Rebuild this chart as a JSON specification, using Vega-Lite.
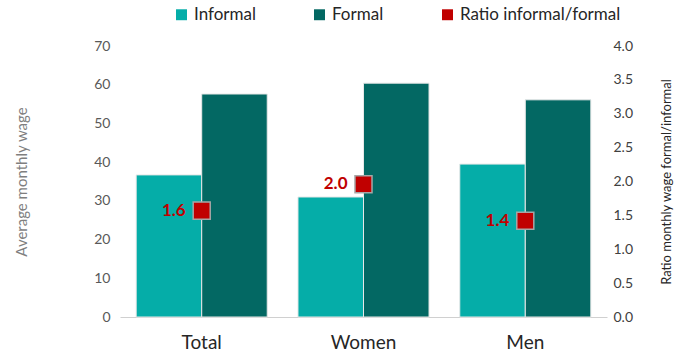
{
  "$schema": "https://vega.github.io/schema/vega-lite/v6.json",
  "width": 487,
  "height": 271,
  "autosize": "none",
  "padding": {"left": 120, "top": 46, "right": 84, "bottom": 39},
  "config": {
    "font": "Lato",
    "view": {"stroke": null},
    "legend": {
      "orient": "none",
      "legendX": 53,
      "legendY": -40,
      "direction": "horizontal",
      "symbolType": "square",
      "symbolSize": 120,
      "labelFontSize": 17,
      "labelLimit": 300,
      "labelColor": "#262626",
      "columnPadding": 55,
      "symbolOpacity": 1,
      "symbolStrokeWidth": 0,
      "title": null
    }
  },
  "datasets": {
    "bars": [
      {"group": "Total", "series": "Informal", "wage": 36.7},
      {"group": "Total", "series": "Formal", "wage": 57.6},
      {"group": "Women", "series": "Informal", "wage": 31.0},
      {"group": "Women", "series": "Formal", "wage": 60.4},
      {"group": "Men", "series": "Informal", "wage": 39.5},
      {"group": "Men", "series": "Formal", "wage": 56.1}
    ],
    "ratios": [
      {"group": "Total", "ratio": 1.57, "label": "1.6"},
      {"group": "Women", "ratio": 1.96, "label": "2.0"},
      {"group": "Men", "ratio": 1.42, "label": "1.4"}
    ]
  },
  "encoding": {
    "x": {
      "field": "group",
      "type": "nominal",
      "sort": ["Total", "Women", "Men"],
      "scale": {"paddingInner": 0.19, "paddingOuter": 0.1},
      "axis": {
        "title": null,
        "labelAngle": 0,
        "labelFontSize": 19,
        "labelColor": "#262626",
        "labelPadding": 16,
        "ticks": false,
        "domainColor": "#d0d0d0",
        "domainWidth": 1
      }
    }
  },
  "layer": [
    {
      "data": {"name": "bars"},
      "mark": {"type": "bar", "stroke": "#e8e8e8", "strokeWidth": 1},
      "encoding": {
        "xOffset": {"field": "series", "type": "nominal", "sort": ["Informal", "Formal"]},
        "y": {
          "field": "wage",
          "type": "quantitative",
          "scale": {"domain": [0, 70]},
          "axis": {
            "orient": "left",
            "title": "Average monthly wage",
            "titleFontSize": 15,
            "titleFontWeight": "normal",
            "titleColor": "#7f7f7f",
            "titlePadding": 64,
            "labelFontSize": 14,
            "labelColor": "#595959",
            "labelPadding": 10,
            "values": [0, 10, 20, 30, 40, 50, 60, 70],
            "grid": false,
            "ticks": false,
            "domain": false
          }
        },
        "color": {
          "field": "series",
          "type": "nominal",
          "scale": {
            "domain": ["Informal", "Formal", "Ratio informal/formal"],
            "range": ["#05ADA8", "#036863", "#C00000"]
          },
          "legend": {}
        }
      }
    },
    {
      "data": {"name": "ratios"},
      "mark": {"type": "point", "shape": "square", "filled": true, "size": 290, "stroke": "#a6a6a6", "strokeWidth": 1.5, "opacity": 1},
      "encoding": {
        "y": {
          "field": "ratio",
          "type": "quantitative",
          "scale": {"domain": [0, 4]},
          "axis": {
            "orient": "right",
            "title": "Ratio monthly wage formal/informal",
            "titleAngle": 270,
            "titleBaseline": "bottom",
            "titleFontSize": 13,
            "titleFontWeight": "normal",
            "titleColor": "#262626",
            "titlePadding": 41,
            "labelFontSize": 14,
            "labelColor": "#404040",
            "labelPadding": 6,
            "format": ".1f",
            "values": [0, 0.5, 1, 1.5, 2, 2.5, 3, 3.5, 4],
            "grid": false,
            "ticks": false,
            "domain": false
          }
        },
        "color": {"datum": "Ratio informal/formal"}
      }
    },
    {
      "data": {"name": "ratios"},
      "mark": {"type": "text", "align": "right", "baseline": "middle", "dx": -16, "fontSize": 17, "fontWeight": "bold", "color": "#C00000"},
      "encoding": {
        "y": {"field": "ratio", "type": "quantitative", "scale": {"domain": [0, 4]}, "axis": null},
        "text": {"field": "label"}
      }
    }
  ],
  "resolve": {"scale": {"y": "independent"}}
}
